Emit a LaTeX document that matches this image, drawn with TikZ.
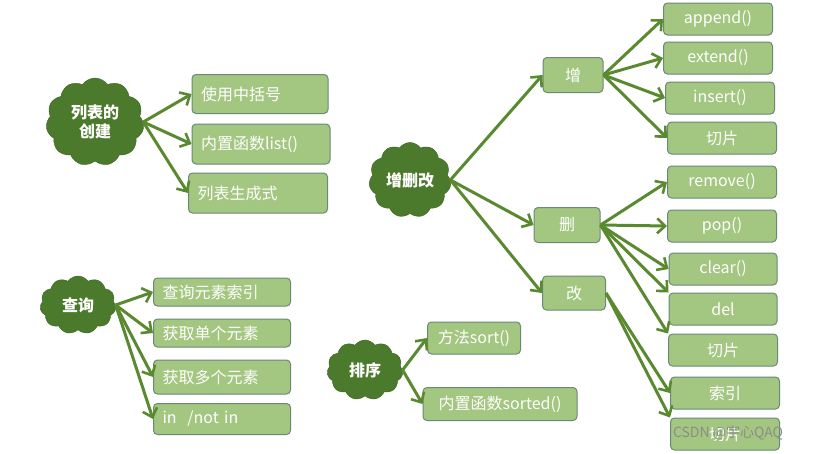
\documentclass[tikz,border=0pt]{standalone}
\usepackage{fontspec}
\setmainfont{Noto Sans CJK SC}
\usetikzlibrary{shapes.symbols,arrows.meta}
\definecolor{boxfill}{HTML}{A3C680}
\definecolor{boxline}{HTML}{6A8A78}
\definecolor{cloudfill}{HTML}{4C7A2C}
\definecolor{arr}{HTML}{5A8A30}
\tikzset{
  bx/.style={draw=boxline,fill=boxfill,rounded corners=4pt,line width=1pt,text=white,font=\fontsize{16}{18}\selectfont,minimum height=#1,inner sep=2pt},
  bx/.default=32pt,
  lb/.style={align=left,inner xsep=9pt},
  cl/.style={cloud,cloud puffs=11,cloud puff arc=110,draw=cloudfill!80!black,fill=cloudfill,text=white,font=\fontsize{16}{19}\selectfont\bfseries,align=center,inner sep=0pt},
  ar/.style={draw=arr,line width=3pt,-{Straight Barb[length=8pt,width=15pt,line width=2.6pt]}}
}
\begin{document}
\begin{tikzpicture}[x=1pt,y=-1pt]
\useasboundingbox[fill=white] (0,0) rectangle (818,453);
% clouds
\node[cl,minimum width=98,minimum height=88] (c1) at (95,122) {列表的\\创建};
\node[cl,minimum width=76,minimum height=58] (c2) at (78,305) {查询};
\node[cl,minimum width=82,minimum height=66] (c3) at (410,180) {增删改};
\node[cl,minimum width=76,minimum height=60] (c4) at (365,370) {排序};
% boxes
\node[bx=39pt,lb,text width=118] (a1) at (260,94) {使用中括号};
\node[bx=40pt,lb,text width=120] (a2) at (261,144) {内置函数list()};
\node[bx=40pt,lb,text width=121] (a3) at (258,193) {列表生成式};
\node[bx=28pt,lb,text width=119] (q1) at (222,292) {查询元素索引};
\node[bx=28pt,lb,text width=119] (q2) at (222,333) {获取单个元素};
\node[bx=34pt,lb,text width=119] (q3) at (222,377) {获取多个元素};
\node[bx=31pt,lb,text width=119] (q4) at (222,419) {in\ \ /not in};
\node[bx=32pt,minimum width=93] (s1) at (474,338) {方法sort()};
\node[bx=33pt,minimum width=154] (s2) at (500,404) {内置函数sorted()};
\node[bx=35pt,minimum width=60] (z) at (573,75) {增};
\node[bx=35pt,minimum width=66] (d) at (567,225) {删};
\node[bx=34pt,minimum width=63] (g) at (574,293) {改};
\node[bx,minimum width=109] (z1) at (718,19) {append()};
\node[bx,minimum width=109] (z2) at (718,58) {extend()};
\node[bx,minimum width=109] (z3) at (720,98) {insert()};
\node[bx,minimum width=109] (z4) at (722,138) {切片};
\node[bx,minimum width=109] (d1) at (722,182) {remove()};
\node[bx,minimum width=109] (d2) at (722,226) {pop()};
\node[bx,minimum width=108] (d3) at (723,269) {clear()};
\node[bx,minimum width=108] (d4) at (723,309) {del};
\node[bx,minimum width=109] (d5) at (723,350) {切片};
\node[bx,minimum width=109] (g1) at (725,393) {索引};
\node[bx,minimum width=109] (g2) at (725,434) {切片};
% arrows
\foreach \t in {a1,a2,a3} \draw[ar] (c1.east) -- (\t.west);
\foreach \t in {q1,q2,q3,q4} \draw[ar] (c2.east) -- (\t.west);
\foreach \t in {s1,s2} \draw[ar] (c4.east) -- (\t.west);
\foreach \t in {z,d,g} \draw[ar] (c3.east) -- (\t.west);
\foreach \t in {z1,z2,z3,z4} \draw[ar] (z.east) -- (\t.west);
\foreach \t in {d1,d2,d3} \draw[ar] (d.east) -- (\t.west);
\draw[ar] (d.east) -- (d4.north west);
\draw[ar] (d.east) -- (d5.north west);
\draw[ar] (g.east) -- (g1.west);
\draw[ar] (g.east) -- (g2.north west);
\node[text=white!55!black,font=\fontsize{14}{16}\selectfont] (wm) at (728,433) {CSDN @宇心QAQ};
\end{tikzpicture}
\end{document}
